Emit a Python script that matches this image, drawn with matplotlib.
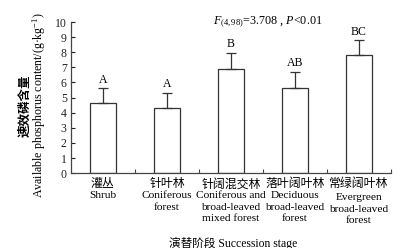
import matplotlib
matplotlib.use("Agg")
import matplotlib.pyplot as plt
import numpy as np

cat_cn = ["灌丛", "针叶林", "针阔混交林", "落叶阔叶林", "常绿阔叶林"]
cat_en = [
    ["Shrub"],
    ["Coniferous", "forest"],
    ["Coniferous and", "broad-leaved", "mixed forest"],
    ["Deciduous", "broad-leaved", "forest"],
    ["Evergreen", "broad-leaved", "forest"],
]
values = [4.65, 4.32, 6.92, 5.65, 7.82]
errors = [1.0, 1.0, 1.05, 1.07, 1.0]
letters = ["A", "A", "B", "AB", "BC"]

fam = ["Liberation Serif", "Noto Sans CJK SC"]
plt.rcParams["font.family"] = fam
plt.rcParams["mathtext.fontset"] = "custom"
plt.rcParams["mathtext.it"] = "Liberation Serif:italic"
plt.rcParams["mathtext.rm"] = "Liberation Serif"

fig = plt.figure(figsize=(4.03, 2.48), dpi=100)
ax = fig.add_axes([0.176, 0.302, 0.794, 0.609])

x = np.arange(len(values))
ax.bar(x, values, width=0.4, color="white", edgecolor="#333333", linewidth=0.9,
       yerr=[np.zeros(len(errors)), errors], capsize=3.5,
       error_kw=dict(ecolor="#333333", elinewidth=0.9, capthick=0.9))
for xi, v, e, lab in zip(x, values, errors, letters):
    ax.text(xi, v + e + 0.15, lab, ha="center", va="bottom", fontsize=8.5)

ax.set_xlim(-0.5, 4.5)
ax.set_ylim(0, 10)
ax.set_yticks(range(0, 11))
ax.spines["top"].set_visible(False)
ax.spines["right"].set_visible(False)
for s in ("left", "bottom"):
    ax.spines[s].set_color("#444444")
    ax.spines[s].set_linewidth(0.9)
ax.tick_params(axis="y", direction="in", length=3, width=0.8, labelsize=8.5, pad=3, colors="#222222")
ax.set_xticks(x)
ax.set_xticklabels([])
ax.tick_params(axis="x", which="major", length=0)
ax.set_xticks(np.arange(0.5, 5.0, 1.0), minor=True)
ax.tick_params(axis="x", which="minor", direction="in", length=3, width=0.8, colors="#444444")

# category labels: Chinese line then English lines (offsets in points below axis)
for i, (cn, en) in enumerate(zip(cat_cn, cat_en)):
    extra = 1.4 if i == 4 else 0.0
    ax.annotate(cn, xy=(i, 0), xycoords=("data", "axes fraction"), xytext=(0, -7.6),
                textcoords="offset points", ha="center", va="center", fontsize=8.6,
                family=["Noto Sans CJK SC"])
    for j, line in enumerate(en):
        ax.annotate(line, xy=(i, 0), xycoords=("data", "axes fraction"),
                    xytext=(0, -16.3 - 8.2 * j - extra), textcoords="offset points",
                    ha="center", va="center", fontsize=8.2)

ax.text(0.616, 1.0, r"$F_{(4,98)}$=3.708 , $P$<0.01", transform=ax.transAxes,
        ha="center", va="center", fontsize=8.7)

fig.text(0.062, 0.575, "速效磷含量", rotation=90, ha="center", va="center", fontsize=9,
         fontweight="bold", family=["Noto Sans CJK SC"])
fig.text(0.097, 0.575, "Available phosphorus content/(g·kg$^{-1}$)", rotation=90,
         ha="center", va="center", fontsize=8.6)
fig.text(0.578, 0.02, "演替阶段 Succession stage", ha="center", va="center", fontsize=8.4)

fig.savefig("out.png", dpi=100)
